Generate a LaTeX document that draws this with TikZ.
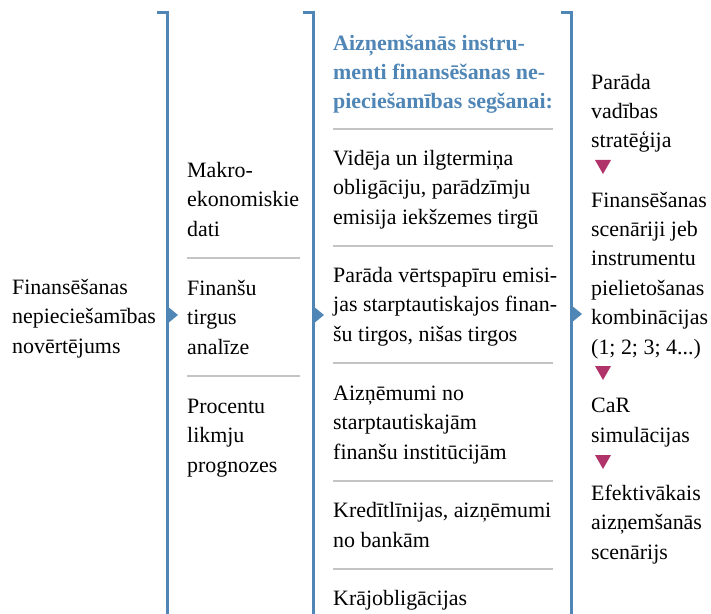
\documentclass[tikz,border=0pt]{standalone}
\usepackage{fontspec}
\setmainfont{Liberation Serif}
\definecolor{bracketblue}{HTML}{4F86B6}
\definecolor{stepred}{HTML}{B0346A}
\definecolor{rulegray}{HTML}{C4C4C4}

\begin{document}
\begin{tikzpicture}[x=1bp, y=-1bp,
    txt/.style={anchor=base west, align=left, inner sep=0pt, font=\fontsize{22}{29.5}\selectfont},
    head/.style={txt, font=\fontsize{22}{29.5}\selectfont\bfseries, text=bracketblue},
    bracket/.style={draw=bracketblue, line width=3bp},
    sep/.style={draw=rulegray, line width=1.5bp}]
    \useasboundingbox (0,0) rectangle (711,614);

    % Brackets with arrow markers
    \foreach \x in {167, 313, 571} {
        \draw[bracket] (\x-10,13) -- (\x,13) -- (\x,616);
    }
    \foreach \x in {167, 313} {
        \fill[bracketblue] (\x,306) -- (\x+11,315) -- (\x,324) -- cycle;
    }
    \fill[bracketblue] (571,305) -- (582,314) -- (571,323) -- cycle;

    % Left column (anchored at the last baseline)
    \node[txt] (assess) at (12,353) {Finansēšanas\\nepieciešamības\\novērtējums};

    % Second column
    \node[txt] (macro) at (187,236) {Makro-\\ekonomiskie\\dati};
    \node[txt] (market) at (187,354) {Finanšu\\tirgus\\analīze};
    \node[txt] (rates) at (187,472) {Procentu\\likmju\\prognozes};
    \foreach \y in {258, 376} {
        \draw[sep] (187,\y) -- (300,\y);
    }

    % Third column
    \node[head] (instr) at (333,109) {Aizņemšanās instru-\\menti finansēšanas ne-\\pieciešamības segšanai:};
    \node[txt] (bonds) at (333,224) {Vidēja un ilgtermiņa\\obligāciju, parādzīmju\\emisija iekšzemes tirgū};
    \node[txt] (euro) at (333,341) {Parāda vērtspapīru emisi-\\jas starptautiskajos finan-\\šu tirgos, nišas tirgos};
    \node[txt] (ifi) at (333,459) {Aizņēmumi no\\starptautiskajām\\finanšu institūcijām};
    \node[txt] (credit) at (333,547) {Kredītlīnijas, aizņēmumi\\no bankām};
    \node[txt] (savings) at (333,605) {Krājobligācijas};
    \foreach \y in {129, 246, 363, 481, 569} {
        \draw[sep] (333,\y) -- (553,\y);
    }

    % Right column
    \node[txt] (strategy) at (591,148) {Parāda\\vadības\\stratēģija};
    \node[txt] (scen) at (591,354) {Finansēšanas\\scenāriji jeb\\instrumentu\\pielietošanas\\kombinācijas\\(1; 2; 3; 4...)};
    \node[txt] (car) at (591,442) {CaR\\simulācijas};
    \node[txt] (best) at (591,559) {Efektivākais\\aizņemšanās\\scenārijs};
    \foreach \y in {160, 366, 455} {
        \fill[stepred] (595,\y) -- (611,\y) -- (603,\y+14) -- cycle;
    }
\end{tikzpicture}
\end{document}
